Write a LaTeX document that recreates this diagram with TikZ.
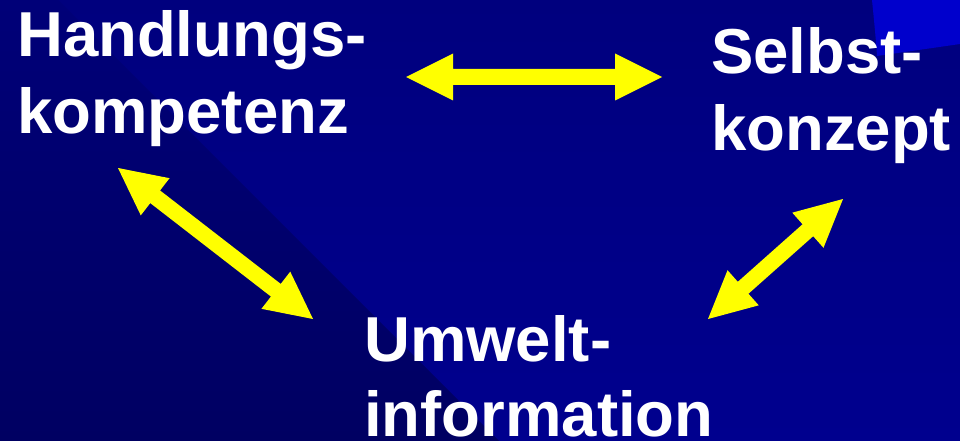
\documentclass[tikz,border=0pt]{standalone}
\usepackage{fontspec}
\setmainfont{Liberation Sans}
\usetikzlibrary{calc}
\definecolor{bgtop}{RGB}{0,0,126}
\definecolor{bgbot}{RGB}{0,0,142}
\definecolor{wedgetop}{RGB}{0,0,120}
\definecolor{wedgebot}{RGB}{0,0,98}
\definecolor{cornerblue}{RGB}{0,0,204}
\definecolor{arrowyellow}{RGB}{255,255,0}
\tikzset{
  labeltext/.style={text=white, font=\bfseries\fontsize{63.5}{76}\selectfont, anchor=base west, inner sep=0pt},
  arrowfill/.style={fill=arrowyellow},
}
\newcommand\dblarrow[2]{%
  \coordinate (#1h) at ($(#1)!47pt!(#2)$);
  \coordinate (#2h) at ($(#2)!47pt!(#1)$);
  \fill[arrowfill] (#1) -- ($(#1h)!23.5pt!90:(#2)$) -- ($(#1h)!8pt!90:(#2)$)
    -- ($(#2h)!8pt!-90:(#1)$) -- ($(#2h)!23.5pt!-90:(#1)$) -- (#2)
    -- ($(#2h)!23.5pt!90:(#1)$) -- ($(#2h)!8pt!90:(#1)$)
    -- ($(#1h)!8pt!-90:(#2)$) -- ($(#1h)!23.5pt!-90:(#2)$) -- cycle;
}
\begin{document}
\begin{tikzpicture}[x=1pt, y=-1pt]
\useasboundingbox (0,0) rectangle (960,441);
% background
\shade[top color=bgtop, bottom color=bgbot] (0,0) rectangle (960,441);
\shade[top color=wedgetop, bottom color=wedgebot] (0,0) -- (58,0) -- (499,441) -- (0,441) -- cycle;
\fill[cornerblue] (872,0) .. controls (874,20) and (876,40) .. (877,56) -- (960,44) -- (960,0) -- cycle;
% labels
\node[labeltext] (hk1) at (17,57) {Handlungs-};
\node[labeltext] (hk2) at (17,133) {kompetenz};
\node[labeltext] (sk1) at (711,74) {Selbst-};
\node[labeltext] (sk2) at (711,150) {konzept};
\node[labeltext] (ui1) at (364,361) {Umwelt-};
\node[labeltext] (ui2) at (364,436) {information};
% arrow end points
\coordinate (hsL) at (406,77);
\coordinate (hsR) at (662,77);
\coordinate (huA) at (118,168);
\coordinate (huB) at (313,319);
\coordinate (suA) at (843,199);
\coordinate (suB) at (708,319);
\dblarrow{hsL}{hsR}
\dblarrow{huA}{huB}
\dblarrow{suA}{suB}
\end{tikzpicture}
\end{document}
